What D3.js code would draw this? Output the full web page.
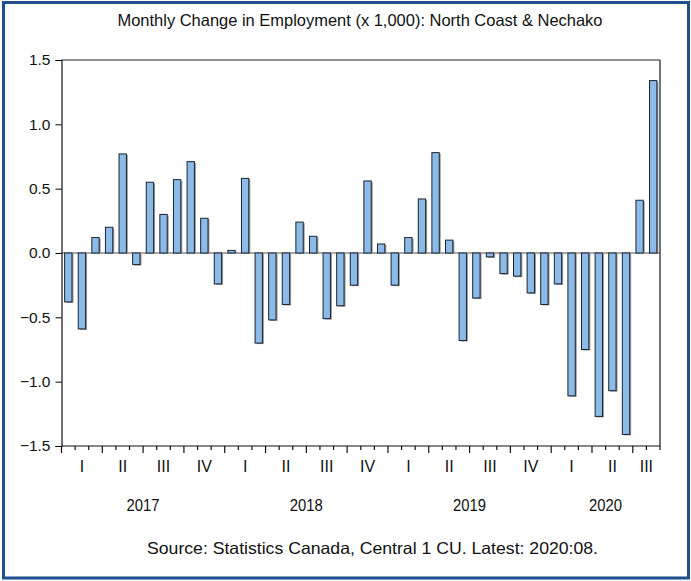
<!DOCTYPE html>
<html>
<head>
<meta charset="utf-8">
<script src="https://cdn.jsdelivr.net/npm/d3@7"></script>
<style>
  body { margin: 0; background: #fff; }
  svg text { font-family: 'Liberation Sans', Arial, sans-serif; fill: #111; }
</style>
</head>
<body>
<div class="chart"></div>
<script>
const title = 'Monthly Change in Employment (x 1,000): North Coast & Nechako'
const source = 'Source: Statistics Canada, Central 1 CU. Latest: 2020:08.'

// Jan 2017 .. Aug 2020
const months = d3.range(44).map(i => (2017 + Math.floor(i / 12)) + ':' + String(i % 12 + 1).padStart(2, '0'))
const values = [
  -0.38, -0.59, 0.12, 0.20, 0.77, -0.09, 0.55, 0.30, 0.57, 0.71, 0.27, -0.24,
  0.02, 0.58, -0.70, -0.52, -0.40, 0.24, 0.13, -0.51, -0.41, -0.25, 0.56, 0.07,
  -0.25, 0.12, 0.42, 0.78, 0.10, -0.68, -0.35, -0.03, -0.16, -0.18, -0.31, -0.40,
  -0.24, -1.11, -0.75, -1.27, -1.07, -1.41, 0.41, 1.34
]
const years = ['2017', '2018', '2019', '2020']
const quarterNames = ['I', 'II', 'III', 'IV']
const yTicks = [-1.5, -1.0, -0.5, 0.0, 0.5, 1.0, 1.5]

const width = 691
const height = 581
const pLeft = 61.5, pRight = 660, pTop = 60, pBottom = 446

let svg = d3.select('.chart')
  .append('svg')
  .attr('width', width)
  .attr('height', height)

// outer frame
svg.append('rect')
  .attr('x', 3.5)
  .attr('y', 2.5)
  .attr('width', 685)
  .attr('height', 575.5)
  .attr('fill', 'none')
  .attr('stroke', '#1f4f8c')
  .attr('stroke-width', 3)

let x = d3.scaleBand()
  .domain(months)
  .range([pLeft, pRight])
  .paddingInner(0.46)
  .paddingOuter(0.23)

let edge = d3.scaleLinear()
  .domain([0, months.length])
  .range([pLeft, pRight])

let y = d3.scaleLinear()
  .domain([-1.5, 1.5])
  .range([pBottom, pTop])

// zero line
svg.append('line')
  .attr('x1', pLeft)
  .attr('x2', pRight)
  .attr('y1', y(0))
  .attr('y2', y(0))
  .attr('stroke', '#8a8a8a')
  .attr('stroke-width', 1.5)

// bar shadows
svg.append('g')
  .selectAll('rect')
  .data(values)
  .enter().append('rect')
  .attr('x', (d, i) => x(months[i]) + 1.5)
  .attr('y', d => Math.min(y(d), y(0)) + 1)
  .attr('width', x.bandwidth())
  .attr('height', d => Math.abs(y(d) - y(0)))
  .attr('fill', '#9a9a9a')

// bars
svg.append('g')
  .selectAll('rect')
  .data(values)
  .enter().append('rect')
  .attr('x', (d, i) => x(months[i]))
  .attr('y', d => Math.min(y(d), y(0)))
  .attr('width', x.bandwidth())
  .attr('height', d => Math.abs(y(d) - y(0)))
  .attr('fill', '#8bbbe6')
  .attr('stroke', '#1b2430')
  .attr('stroke-width', 1)

// plot frame
svg.append('line').attr('x1', pLeft).attr('x2', pRight).attr('y1', pTop).attr('y2', pTop)
  .attr('stroke', '#222').attr('stroke-width', 1.2)
svg.append('line').attr('x1', pRight).attr('x2', pRight).attr('y1', pTop).attr('y2', pBottom)
  .attr('stroke', '#444').attr('stroke-width', 1.5)

// y axis
let yAxis = svg.append('g')
  .attr('transform', 'translate(' + pLeft + ',0)')
  .call(d3.axisLeft(y).tickValues(yTicks).tickFormat(d3.format('.1f')).tickSize(6).tickPadding(5))
yAxis.select('.domain').attr('stroke', '#111').attr('stroke-width', 1.2)
yAxis.selectAll('text').style('font-size', '15.5px').style('font-family', "'Liberation Sans', Arial, sans-serif").attr('fill', '#111')

// x axis: month boundary ticks
svg.append('line').attr('x1', pLeft).attr('x2', pRight).attr('y1', pBottom).attr('y2', pBottom)
  .attr('stroke', '#111').attr('stroke-width', 1.2)
svg.append('g')
  .selectAll('line')
  .data(d3.range(months.length + 1))
  .enter().append('line')
  .attr('x1', d => edge(d))
  .attr('x2', d => edge(d))
  .attr('y1', pBottom)
  .attr('y2', d => pBottom + (d % 3 === 0 ? 7 : 4))
  .attr('stroke', '#111')
  .attr('stroke-width', 1.2)

// quarter labels
let quarters = d3.range(Math.ceil(months.length / 3)).map(q => {
  let a = q * 3, b = Math.min(q * 3 + 3, months.length)
  return { label: quarterNames[q % 4], mid: (edge(a) + edge(b)) / 2 }
})
svg.append('g')
  .selectAll('text')
  .data(quarters)
  .enter().append('text')
  .attr('x', d => d.mid)
  .attr('y', 472)
  .attr('text-anchor', 'middle')
  .style('font-size', '16px')
  .text(d => d.label)

// year labels
svg.append('g')
  .selectAll('text')
  .data(years)
  .enter().append('text')
  .attr('x', (d, i) => (edge(i * 12) + edge(Math.min(i * 12 + 12, months.length))) / 2)
  .attr('y', 511)
  .attr('text-anchor', 'middle')
  .style('font-size', '16px')
  .attr('textLength', 33)
  .attr('lengthAdjust', 'spacingAndGlyphs')
  .text(d => d)

svg.append('text')
  .attr('x', 360)
  .attr('y', 26)
  .attr('text-anchor', 'middle')
  .style('font-size', '16.5px')
  .attr('textLength', 485)
  .attr('lengthAdjust', 'spacingAndGlyphs')
  .text(title)

svg.append('text')
  .attr('x', 372.5)
  .attr('y', 554)
  .attr('text-anchor', 'middle')
  .style('font-size', '16.5px')
  .attr('textLength', 451)
  .attr('lengthAdjust', 'spacingAndGlyphs')
  .text(source)
</script>
</body>
</html>
